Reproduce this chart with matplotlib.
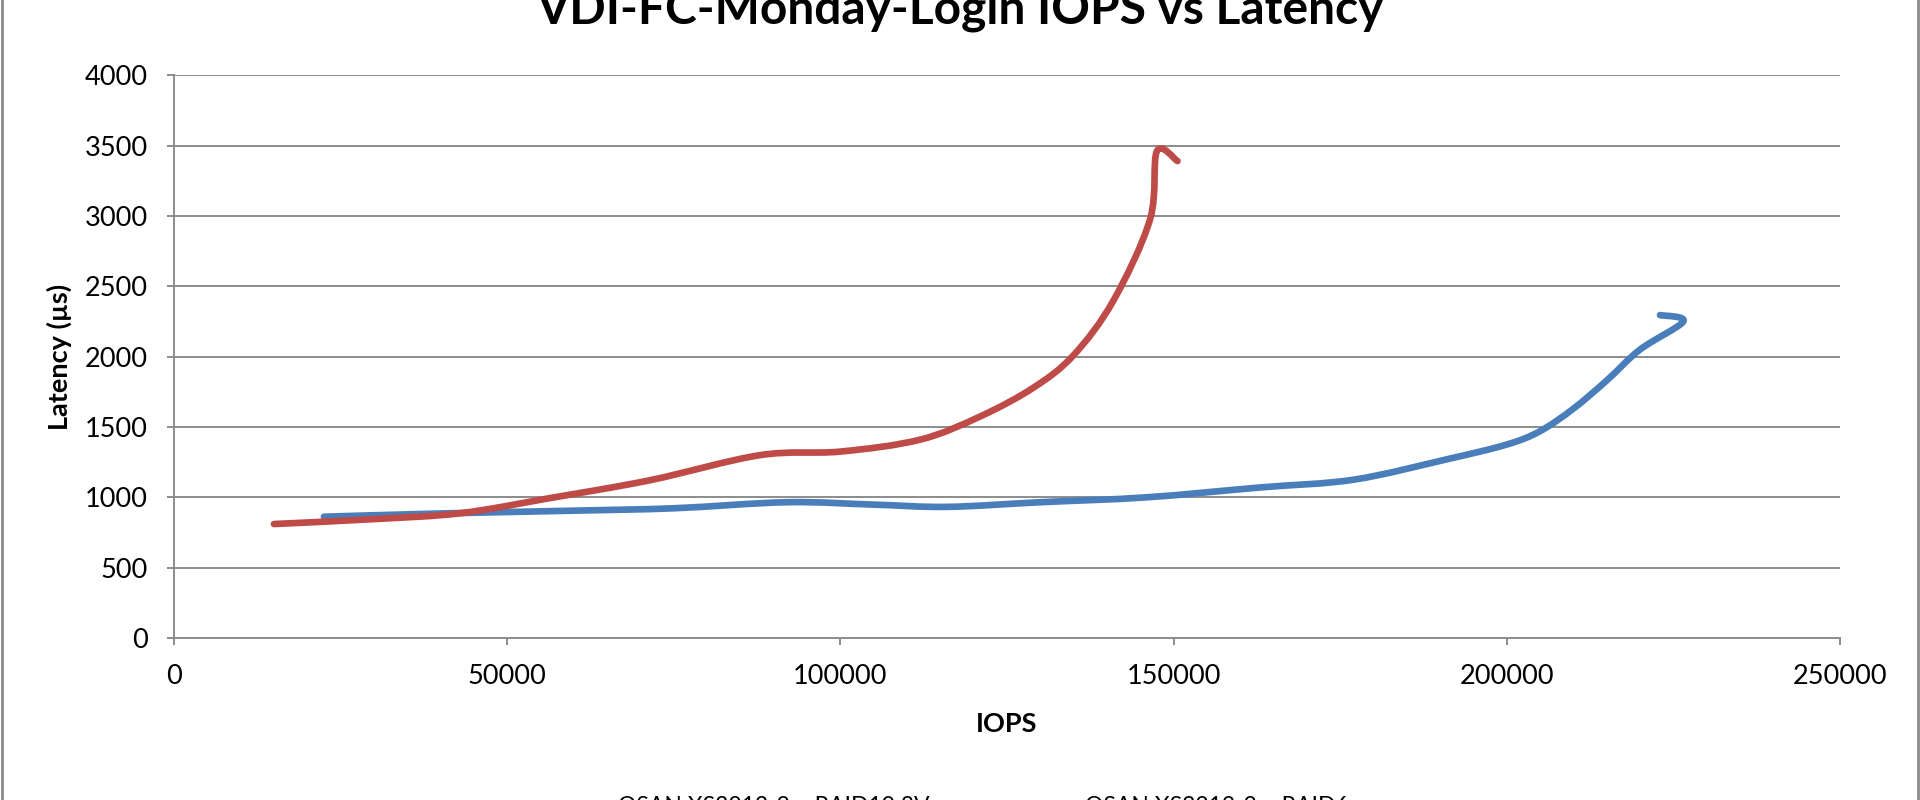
import numpy as np
import matplotlib
matplotlib.use("Agg")
import matplotlib.pyplot as plt
from matplotlib.path import Path
from matplotlib.patches import PathPatch, Rectangle
from matplotlib.lines import Line2D


TITLE = "VDI-FC-Monday-Login IOPS vs Latency"
SERIES_NAMES = ["QSAN XS3212-2 \u2013 RAID10 8V", "QSAN XS3212-2 \u2013 RAID6"]

# RAID10 8V (blue)
raid10_iops = [22500, 40000, 60000, 75000, 92000, 105000, 116000, 130000,
               146000, 163000, 177000, 191000, 200000, 205000, 210000, 215000,
               220000, 226500, 223000]
raid10_lat = [862, 885, 905, 922, 965, 948, 932, 965,
              1000, 1070, 1125, 1270, 1375, 1470, 1630, 1830,
              2050, 2250, 2295]

# RAID6 (red)
raid6_iops = [15000, 30000, 43000, 56500, 71500, 88000, 100000, 112000,
              121000, 129000, 135000, 141000, 146500, 147500, 150600]
raid6_lat = [810, 845, 887, 995, 1122, 1300, 1325, 1410,
             1575, 1780, 2010, 2400, 2980, 3460, 3390]

X_TICKS = [0, 50000, 100000, 150000, 200000, 250000]
Y_TICKS = [0, 500, 1000, 1500, 2000, 2500, 3000, 3500, 4000]

BLUE = "#4A7EBB"
RED = "#BE4B48"
GRID = "#8c8c8c"


def smooth_path(xs, ys):
    # excel style smoothed line (catmull-rom as cubic bezier)
    pts = np.column_stack([xs, ys]).astype(float)
    n = len(pts)
    verts = [pts[0]]
    codes = [Path.MOVETO]
    for i in range(n - 1):
        p0 = pts[i - 1] if i > 0 else pts[i]
        p1 = pts[i]
        p2 = pts[i + 1]
        p3 = pts[i + 2] if i + 2 < n else pts[i + 1]
        verts += [p1 + (p2 - p0) / 6.0, p2 - (p3 - p1) / 6.0, p2]
        codes += [Path.CURVE4] * 3
    return Path(verts, codes)


plt.rcParams["font.family"] = ["Lato", "DejaVu Sans"]

fig = plt.figure(figsize=(19.2, 8), dpi=100)
ax = fig.add_axes([0.0906, 0.2025, 0.8677, 0.7035])

for xs, ys, col in [(raid10_iops, raid10_lat, BLUE), (raid6_iops, raid6_lat, RED)]:
    patch = PathPatch(smooth_path(xs, ys), facecolor="none", edgecolor=col,
                      lw=4.8, capstyle="round", joinstyle="round", zorder=3)
    ax.add_patch(patch)

ax.set_xlim(0, 250000)
ax.set_ylim(0, 4000)
ax.set_xticks(X_TICKS)
ax.set_yticks(Y_TICKS)
ax.set_xticklabels([str(v) for v in X_TICKS])
ax.set_yticklabels([str(v) for v in Y_TICKS])

ax.yaxis.grid(True, color=GRID, lw=1.4)
ax.set_axisbelow(True)
for side in ["top", "right"]:
    ax.spines[side].set_visible(False)
for side in ["left", "bottom"]:
    ax.spines[side].set_color(GRID)
    ax.spines[side].set_linewidth(1.4)
ax.tick_params(axis="both", direction="out", length=5, width=1.4, color=GRID,
               labelsize=19.5, pad=14)

ax.set_xlabel("IOPS", fontsize=19.5, fontweight="bold", labelpad=16)
ax.set_ylabel("Latency (\u00b5s)", fontsize=19.5, fontweight="bold", labelpad=9)

fig.text(0.5, 0.971, TITLE, ha="center", va="baseline", fontsize=34.5, fontweight="bold")

handles = [Line2D([], [], color=BLUE, lw=4.8), Line2D([], [], color=RED, lw=4.8)]
fig.legend(handles, SERIES_NAMES, loc="center", bbox_to_anchor=(0.487, -0.0075),
           ncol=2, frameon=False, fontsize=16.5, handlelength=3.4, columnspacing=2.6)

fig.patches.append(Rectangle((0.0008, -0.1), 0.9984, 1.2, transform=fig.transFigure,
                             fill=False, edgecolor="#8c8c8c", lw=2, clip_on=False))

fig.savefig("out.png", dpi=100)
